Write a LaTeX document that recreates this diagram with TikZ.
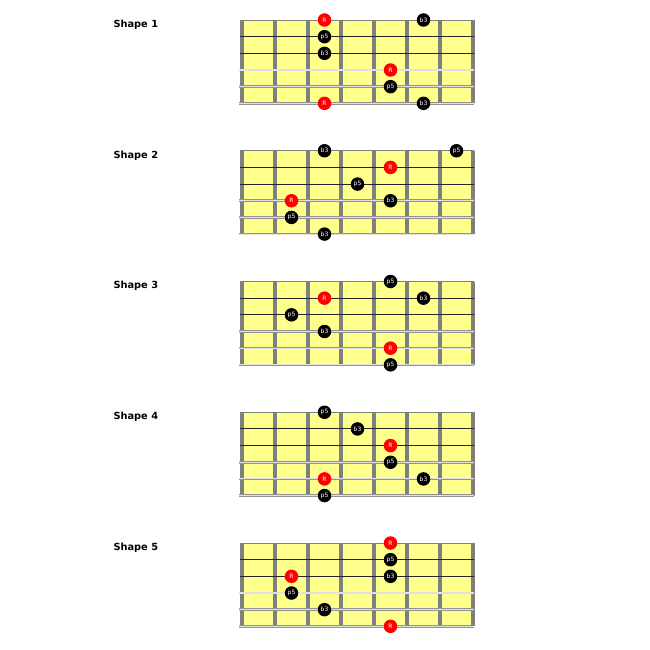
\documentclass[tikz,border=0pt]{standalone}
\usepackage{fontspec}
\setmainfont{DejaVu Sans}
\definecolor{board}{HTML}{FFFF8C}
\definecolor{fretgray}{HTML}{7F7F7F}
\definecolor{woundlight}{HTML}{E0E0E0}
\begin{document}
\begin{tikzpicture}[x=1pt, y=-1pt]
	\tikzset{note/.style={circle, fill=black, text=white, minimum size=13.5pt, inner sep=0pt, font=\fontsize{6}{7}\selectfont},
	root/.style={note, fill=red},
	titre/.style={anchor=base west, font=\bfseries\fontsize{9.8}{12}\selectfont},
	fret/.style={line width=3.5pt, fretgray},
	plain/.style={line width=0.9pt, black!85},
	wound/.style={line width=2.6pt, gray!85}};

	\useasboundingbox (0,0) rectangle (650,650);

	\foreach \s in {1,...,5}{
		\pgfmathsetmacro{\ytop}{20+(\s-1)*130.75}
		\node[titre] (titre-\s) at (110, \ytop+7.3) {Shape \s};
		\fill[board] (242,\ytop) rectangle (473,\ytop+83.33);
		\foreach \j in {0,...,7}
			\draw[fret] (242+33*\j,\ytop) -- (242+33*\j,\ytop+83.33);
		\draw[line width=0.8pt, gray] (240,\ytop) -- (474,\ytop);
		\foreach \k in {1,2}
			\draw[plain] (240,\ytop+16.667*\k) -- (474,\ytop+16.667*\k);
		\foreach \k in {3,4,5}{
			\draw[wound] (239,\ytop+16.667*\k) -- (474,\ytop+16.667*\k);
			\draw[line width=1.1pt, woundlight] (239,\ytop+16.667*\k) -- (474,\ytop+16.667*\k);
		}
	}

	% shape / fret column / string / interval / style
	\foreach \s/\c/\k/\lbl/\kind in {
		1/2/1/R/root, 1/5/1/b3/note, 1/2/2/p5/note, 1/2/3/b3/note,
		1/4/4/R/root, 1/4/5/p5/note, 1/2/6/R/root, 1/5/6/b3/note,
		2/2/1/b3/note, 2/6/1/p5/note, 2/4/2/R/root, 2/3/3/p5/note,
		2/1/4/R/root, 2/4/4/b3/note, 2/1/5/p5/note, 2/2/6/b3/note,
		3/4/1/p5/note, 3/2/2/R/root, 3/5/2/b3/note, 3/1/3/p5/note,
		3/2/4/b3/note, 3/4/5/R/root, 3/4/6/p5/note,
		4/2/1/p5/note, 4/3/2/b3/note, 4/4/3/R/root, 4/4/4/p5/note,
		4/2/5/R/root, 4/5/5/b3/note, 4/2/6/p5/note,
		5/4/1/R/root, 5/4/2/p5/note, 5/4/3/b3/note, 5/1/3/R/root,
		5/1/4/p5/note, 5/2/5/b3/note, 5/4/6/R/root}{
		\node[\kind] (n-\s-\k-\c) at ({258.5+33*\c}, {20+(\s-1)*130.75+(\k-1)*16.667}) {\lbl};
	}

\end{tikzpicture}
\end{document}
